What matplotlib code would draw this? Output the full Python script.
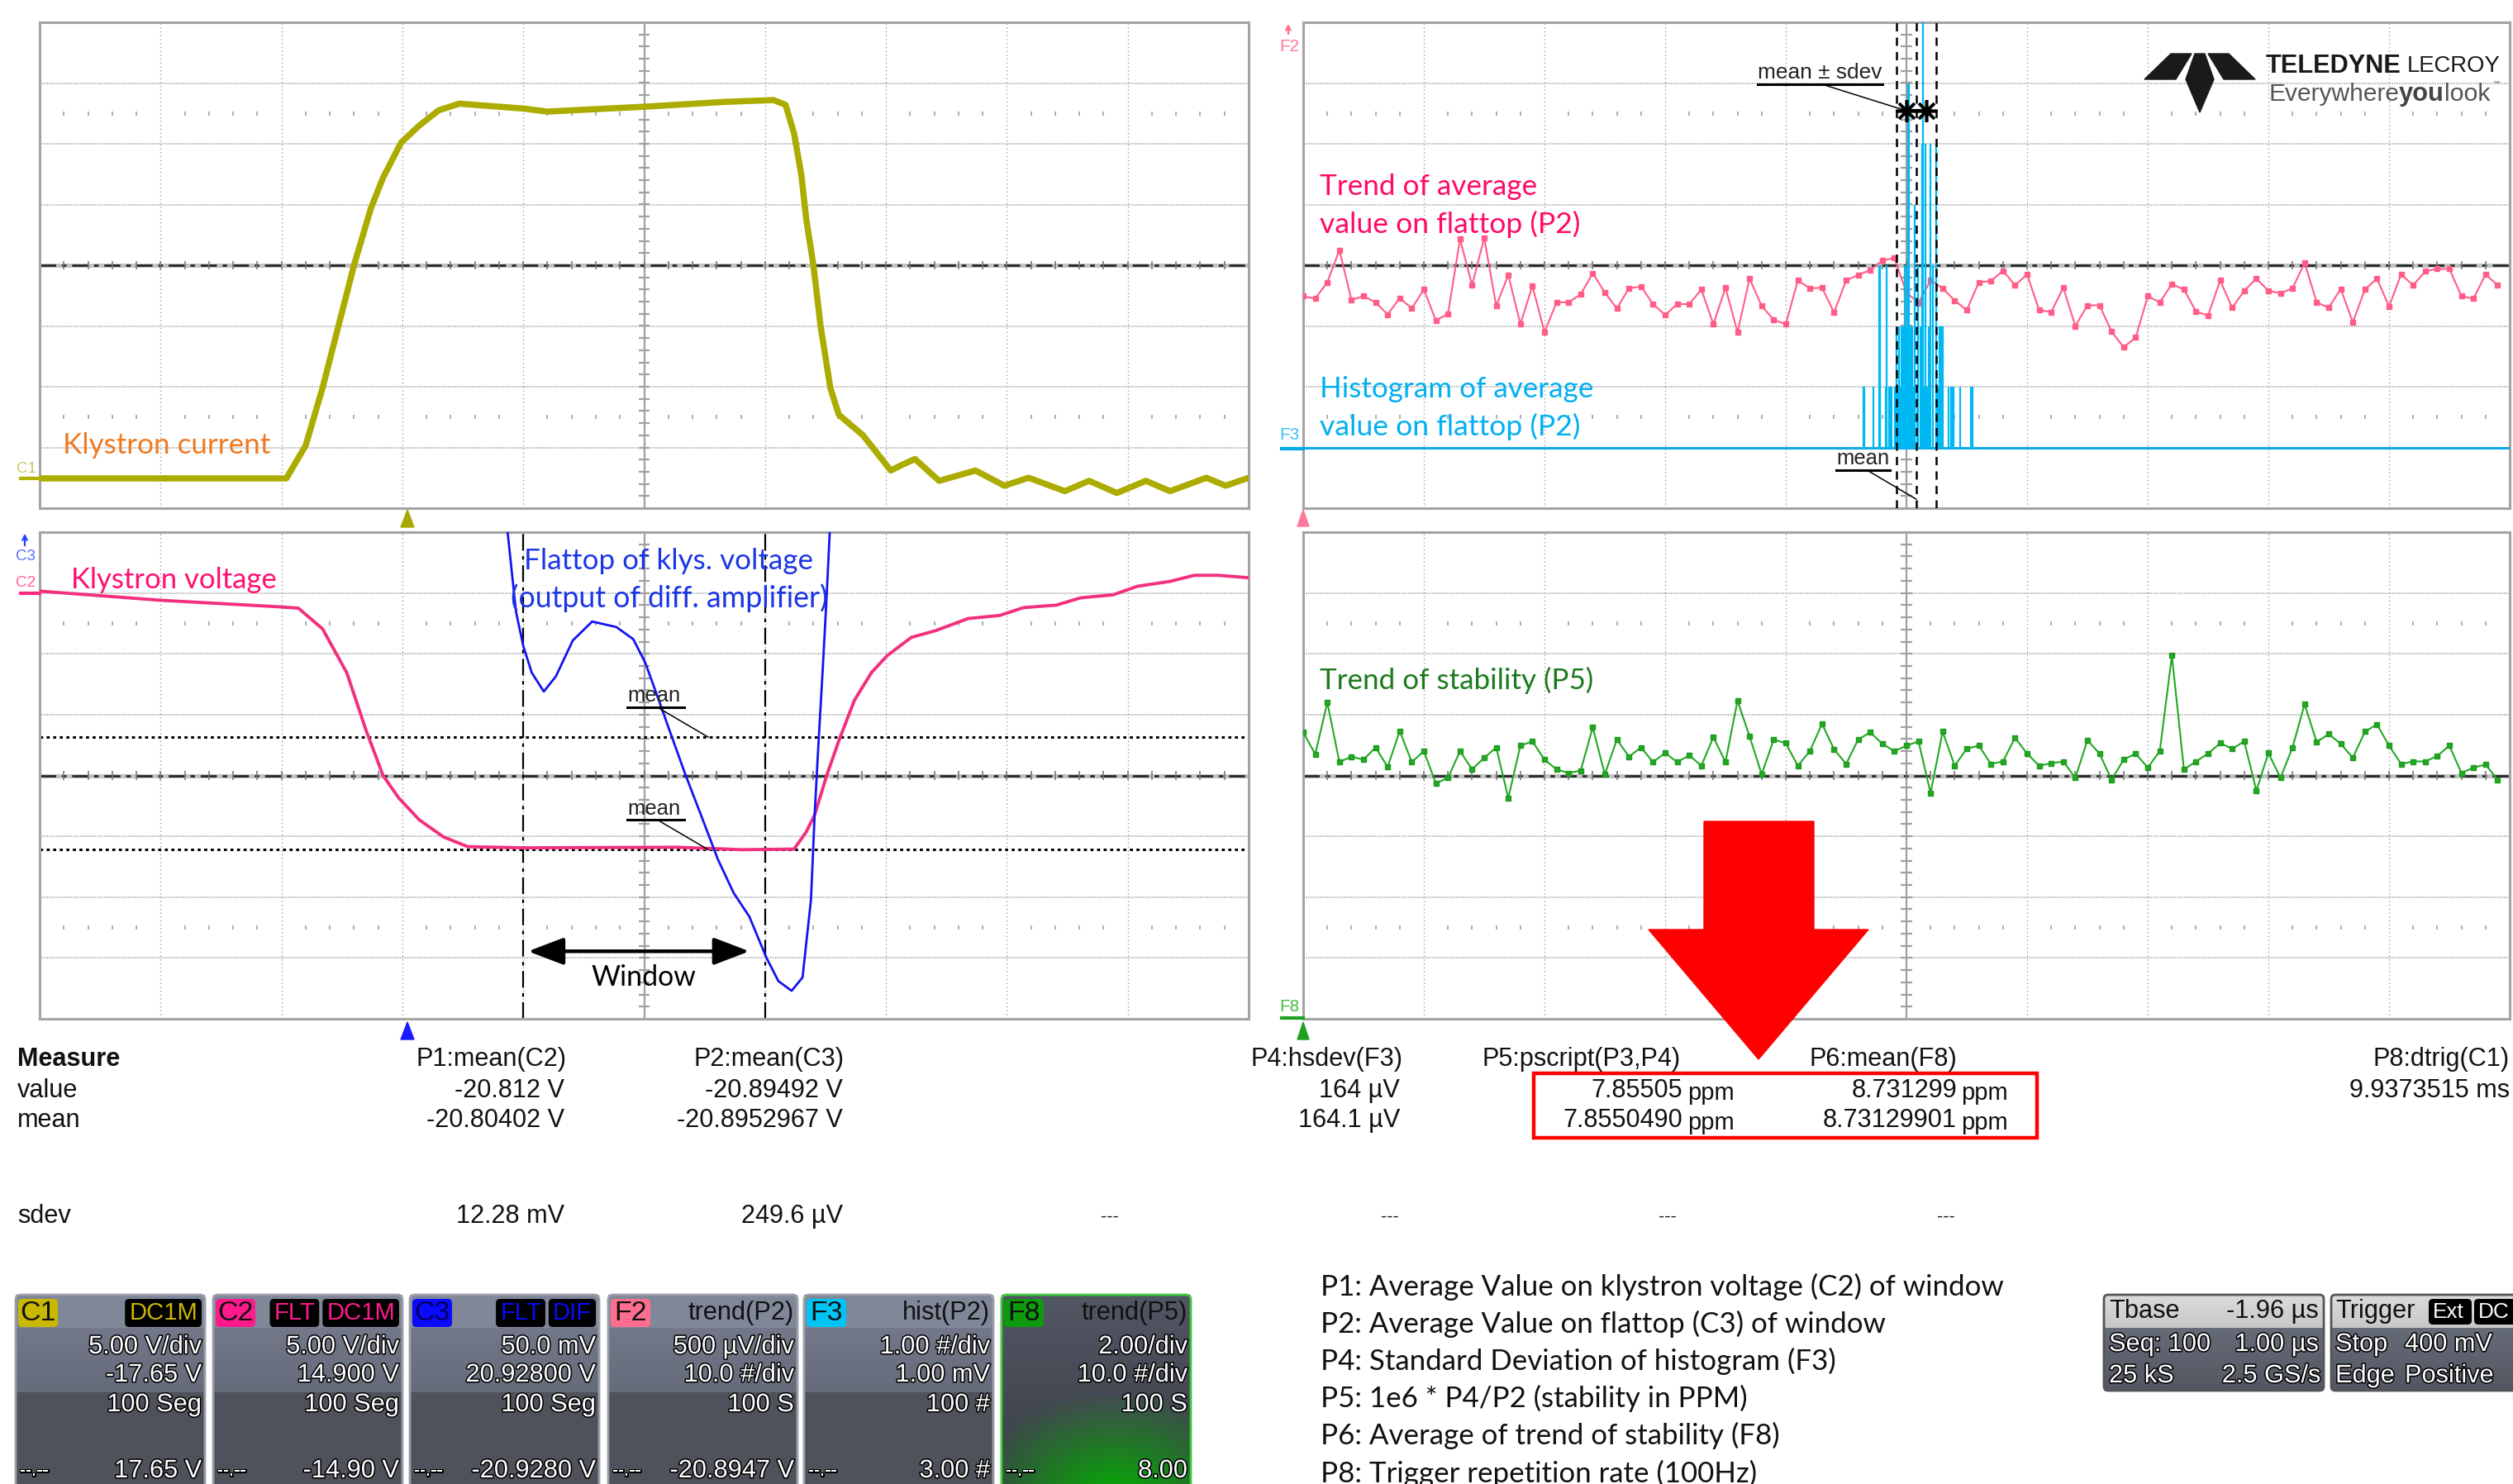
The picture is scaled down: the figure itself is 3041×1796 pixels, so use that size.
import numpy as np
import matplotlib
matplotlib.use('Agg')
import matplotlib.pyplot as plt
from matplotlib.patches import Rectangle, FancyBboxPatch, Polygon
import matplotlib.patheffects as pe

# ---------------- data (screen divisions: x 0..10, y -4..4) ----------------
# C1 klystron current
c1_x = [0.0, 2.04, 2.20, 2.34, 2.47, 2.60, 2.74, 2.84, 2.99, 3.14, 3.30, 3.47, 4.00, 4.20, 5.00,
        5.67, 6.07, 6.17, 6.24, 6.30, 6.34, 6.40, 6.46, 6.54, 6.61, 6.81, 7.04, 7.14, 7.24, 7.44,
        7.74, 7.98, 8.18, 8.48, 8.68, 8.91, 9.15, 9.35, 9.65, 9.81, 10.0]
c1_y = [-3.51, -3.51, -2.97, -2.02, -1.01, 0.0, 0.94, 1.44, 2.02, 2.30, 2.55, 2.66, 2.58, 2.53, 2.61,
        2.69, 2.72, 2.64, 2.17, 1.49, 0.77, 0.0, -1.01, -2.02, -2.46, -2.80, -3.38, -3.28, -3.19, -3.55,
        -3.38, -3.63, -3.50, -3.72, -3.55, -3.75, -3.55, -3.72, -3.50, -3.63, -3.50]
# C2 klystron voltage
c2_x = [0.0, 1.0, 2.0, 2.14, 2.34, 2.54, 2.70, 2.84, 2.97, 3.14, 3.34, 3.54, 4.0, 5.27, 5.81, 6.24,
        6.34, 6.41, 6.51, 6.61, 6.74, 6.88, 7.01, 7.21, 7.41, 7.68, 7.94, 8.14, 8.41, 8.61, 8.88,
        9.08, 9.35, 9.55, 9.75, 10.0]
c2_y = [3.03, 2.88, 2.77, 2.75, 2.41, 1.69, 0.74, 0.0, -0.37, -0.73, -1.01, -1.17, -1.19, -1.18, -1.22,
        -1.21, -0.93, -0.65, 0.0, 0.57, 1.24, 1.69, 1.97, 2.27, 2.38, 2.58, 2.63, 2.76, 2.80, 2.92,
        2.97, 3.11, 3.19, 3.29, 3.29, 3.25]
# C3 flattop (diff. amplifier output)
c3_x = [3.86, 3.94, 4.00, 4.07, 4.17, 4.27, 4.41, 4.57, 4.77, 4.91, 5.01, 5.11, 5.21, 5.34, 5.47,
        5.61, 5.74, 5.87, 6.01, 6.11, 6.22, 6.31, 6.38, 6.41, 6.44, 6.48, 6.51, 6.54]
c3_y = [4.2, 2.69, 2.13, 1.69, 1.38, 1.63, 2.22, 2.53, 2.44, 2.24, 1.85, 1.30, 0.74, 0.02, -0.65,
        -1.38, -1.93, -2.32, -2.99, -3.38, -3.54, -3.32, -2.04, -0.65, 0.46, 1.85, 2.97, 4.2]
mean_levels = [0.63, -1.22]          # C3 mean, C2 mean (dotted lines)
window_edges = [4.0, 6.0]

# F2 trend of P2 (100 samples, div)
f2_trend = [
    -0.51, -0.55, -0.28, 0.25, -0.57, -0.51, -0.61, -0.81, -0.54, -0.71,
    -0.40, -0.91, -0.80, 0.43, -0.33, 0.45, -0.67, -0.16, -0.97, -0.34,
    -1.10, -0.61, -0.61, -0.48, -0.13, -0.45, -0.71, -0.38, -0.35, -0.64,
    -0.82, -0.64, -0.64, -0.40, -0.97, -0.37, -1.10, -0.22, -0.67, -0.90,
    -0.97, -0.25, -0.38, -0.37, -0.78, -0.25, -0.16, -0.08, 0.08, 0.12,
    -0.45, -0.62, -0.25, -0.38, -0.58, -0.74, -0.28, -0.26, -0.09, -0.33,
    -0.15, -0.74, -0.77, -0.37, -1.00, -0.66, -0.66, -1.09, -1.35, -1.19,
    -0.51, -0.61, -0.31, -0.40, -0.76, -0.83, -0.25, -0.70, -0.42, -0.22,
    -0.42, -0.46, -0.38, 0.04, -0.61, -0.70, -0.39, -0.94, -0.40, -0.22,
    -0.68, -0.15, -0.33, -0.10, -0.06, -0.06, -0.51, -0.55, -0.15, -0.33]
# F8 trend of P5 stability (100 samples, div)
f8_trend = [
    0.71, 0.35, 1.20, 0.22, 0.31, 0.26, 0.46, 0.14, 0.73, 0.22,
    0.40, -0.13, -0.04, 0.40, 0.10, 0.29, 0.46, -0.37, 0.49, 0.56,
    0.26, 0.10, 0.04, 0.08, 0.79, 0.02, 0.59, 0.31, 0.46, 0.22,
    0.37, 0.22, 0.33, 0.16, 0.63, 0.22, 1.23, 0.64, 0.02, 0.59,
    0.53, 0.16, 0.40, 0.85, 0.43, 0.19, 0.59, 0.71, 0.52, 0.40,
    0.49, 0.56, -0.29, 0.72, 0.16, 0.44, 0.49, 0.19, 0.23, 0.62,
    0.36, 0.16, 0.20, 0.23, -0.04, 0.58, 0.36, -0.07, 0.26, 0.36,
    0.13, 0.40, 1.97, 0.10, 0.23, 0.36, 0.53, 0.44, 0.56, -0.25,
    0.37, -0.04, 0.46, 1.17, 0.55, 0.68, 0.52, 0.29, 0.72, 0.84,
    0.49, 0.19, 0.23, 0.23, 0.32, 0.49, 0.04, 0.13, 0.18, -0.07]
samples_per_div = 10.0
trend_mv_per_div = 0.5     # F2: 500 uV/div
hist_mv_per_div = 1.0      # F3: 1.00 mV/div
hist_center_div = 5.32
hist_bin_div = 0.01

# measurement table
meas_headers = ['P1:mean(C2)', 'P2:mean(C3)', 'P4:hsdev(F3)', 'P5:pscript(P3,P4)', 'P6:mean(F8)', 'P8:dtrig(C1)']
meas_value = ['-20.812 V', '-20.89492 V', '164 µV', '7.85505', '8.731299', '9.9373515 ms']
meas_mean = ['-20.80402 V', '-20.8952967 V', '164.1 µV', '7.8550490', '8.73129901', '']
meas_sdev = ['12.28 mV', '249.6 µV', '---', '---', '---', '---', '---']

# channel descriptor boxes
ch_names = ['C1', 'C2', 'C3', 'F2', 'F3', 'F8']
ch_colors = ['#C9B800', '#FF1A8C', '#0A0AFF', '#FF6E8E', '#00C4F4', '#0E9A0E']
ch_badges = [['DC1M'], ['FLT', 'DC1M'], ['FLT', 'DIF'], [], [], []]
ch_desc = ['', '', '', 'trend(P2)', 'hist(P2)', 'trend(P5)']
ch_row2 = ['5.00 V/div', '5.00 V/div', '50.0 mV', '500 µV/div', '1.00 #/div', '2.00/div']
ch_row3 = ['-17.65 V', '14.900 V', '20.92800 V', '10.0 #/div', '1.00 mV', '10.0 #/div']
ch_row4 = ['100 Seg', '100 Seg', '100 Seg', '100 S', '100 #', '100 S']
ch_row5 = ['17.65 V', '-14.90 V', '-20.9280 V', '-20.8947 V', '3.00 #', '8.00']

notes = ['P1: Average Value on klystron voltage (C2) of window',
         'P2: Average Value on flattop (C3) of window',
         'P4: Standard Deviation of histogram (F3)',
         'P5: 1e6 * P4/P2 (stability in PPM)',
         'P6: Average of trend of stability (F8)',
         'P8: Trigger repetition rate (100Hz)']

# ---------------- figure ----------------
W, H = 3041, 1796
fig = plt.figure(figsize=(W / 100, H / 100), dpi=100)
fig.patch.set_facecolor('white')
canvas = fig.add_axes([0, 0, 1, 1], zorder=0)
canvas.set_xlim(0, W); canvas.set_ylim(H, 0); canvas.axis('off')
ov = fig.add_axes([0, 0, 1, 1], zorder=10)
ov.set_xlim(0, W); ov.set_ylim(H, 0); ov.axis('off')
renderer = fig.canvas.get_renderer()

LAT = 'Lato'
AR = 'Liberation Sans'


def fitsize(s, width, **kw):
    t = ov.text(0, 0, s, fontsize=20, **kw)
    w = t.get_window_extent(renderer).width
    t.remove()
    return 20 * width / w


def T(ax, x, y, s, width=None, size=20, ha='left', va='center', **kw):
    t = ax.text(x, y, s, ha=ha, va=va, fontsize=size, **kw)
    if width is not None:
        w = t.get_window_extent(renderer).width
        t.set_fontsize(size * width / w)
    return t


def px_axes(x0, y0, x1, y1, z=2):
    return fig.add_axes([x0 / W, 1 - y1 / H, (x1 - x0) / W, (y1 - y0) / H], zorder=z)


def scope_grid(ax):
    ax.set_xlim(0, 10); ax.set_ylim(-4, 4)
    ax.set_xticks([]); ax.set_yticks([])
    for s in ax.spines.values():
        s.set_color('#A4A4A4'); s.set_linewidth(2.2)
    g = '#ABABAB'
    for k in range(1, 10):
        if k != 5:
            ax.axvline(k, color=g, lw=1.0, ls=(0, (1.2, 2.2)), zorder=1)
    for k in (-3, -2, -1, 1, 2, 3):
        ax.axhline(k, color=g, lw=1.3, ls=(0, (0.8, 0.8)), zorder=1)
    ax.axvline(5, color='#A0A0A0', lw=1.6, zorder=1)
    ty = np.arange(-3.8, 3.81, 0.2)
    ax.hlines(ty, 4.955, 5.045, color='#A0A0A0', lw=1.6, zorder=1)
    ax.axhline(0, color='#C2C2C2', lw=3.6, zorder=1)
    ax.axhline(0, color='#262626', lw=2.0, ls=(0, (7, 2.5, 2, 2.5)), zorder=1)
    tx = np.arange(0.2, 9.81, 0.2)
    ax.vlines(tx, -0.07, 0.07, color='#7A7A7A', lw=1.2, zorder=1)
    minor = [t for t in tx if abs(t - round(t)) > 0.05]
    for yy in (2.5, -2.5):
        ax.vlines(minor, yy - 0.035, yy + 0.035, color='#A0A0A0', lw=1.2, zorder=1)


ax_tl = px_axes(48, 27, 1511, 615)
ax_bl = px_axes(48, 644, 1511, 1233)
ax_tr = px_axes(1577, 27, 3037, 615)
ax_br = px_axes(1577, 644, 3037, 1233)
for a in (ax_tl, ax_bl, ax_tr, ax_br):
    scope_grid(a)

# ---- top-left: klystron current ----
ax_tl.plot(c1_x, c1_y, color='#ABAB00', lw=5.4, solid_joinstyle='round', solid_capstyle='butt', zorder=3)

# ---- bottom-left: klystron voltage + flattop ----
ax_bl.plot(c2_x, c2_y, color='#F2307E', lw=2.8, zorder=3)
ax_bl.plot(c3_x, c3_y, color='#1414F0', lw=2.0, zorder=4)
for lvl in mean_levels:
    ax_bl.axhline(lvl, color='black', lw=2.2, ls=(0, (1.2, 1.4)), zorder=2)
for xe in window_edges:
    ax_bl.axvline(xe, color='black', lw=1.6, ls=(0, (9, 3, 2, 3)), zorder=2)
ax_bl.annotate('', xy=(5.87, -2.89), xytext=(4.04, -2.89),
               arrowprops=dict(arrowstyle='<|-|>,head_length=1.1,head_width=0.42', lw=3.2,
                               color='black', shrinkA=0, shrinkB=0, mutation_scale=24), zorder=5)
for (ty, ly, tgt) in [(1.31, 1.12, mean_levels[0]), (-0.55, -0.73, mean_levels[1])]:
    T(ax_bl, 5.08, ty, 'mean', width=64, ha='center', family=AR, color='#222222', zorder=6)
    ax_bl.plot([4.86, 5.33], [ly, ly], color='black', lw=2.2, zorder=6)
    ax_bl.plot([5.11, 5.53], [ly, tgt], color='black', lw=1.1, zorder=6)

# ---- top-right: trend of P2 + histogram ----
f2_x = np.arange(len(f2_trend)) / samples_per_div
ax_tr.plot(f2_x, f2_trend, color='#FF5C88', lw=1.5, marker='s', ms=4.5, mec='#FF5C88', zorder=3)
hv = hist_center_div + np.asarray(f2_trend) * trend_mv_per_div / hist_mv_per_div
bins = np.arange(4.0, 6.0 + 1e-9, hist_bin_div)
cnt, edges = np.histogram(hv, bins=bins)
m = cnt > 0
ax_tr.axhline(-3, color='#10A8E6', lw=2.2, zorder=3)
ax_tr.bar(edges[:-1][m], cnt[m], width=hist_bin_div * 0.8, bottom=-3, align='edge',
          color='#00B8F2', ec='#00B8F2', lw=0.9, zorder=4)
h_mean = hv.mean()
h_sd = hv.std()
for xv in (h_mean - h_sd, h_mean, h_mean + h_sd):
    ax_tr.axvline(xv, color='black', lw=1.8, ls=(0, (4, 3)), zorder=5)
ax_tr.plot([h_mean - 0.5 * h_sd, h_mean + 0.5 * h_sd], [2.55, 2.55], ls='none', marker=(8, 2, 0),
           ms=19, mew=2.6, color='black', zorder=6)
ax_tr.plot([h_mean - 0.5 * h_sd, h_mean + 0.5 * h_sd], [2.55, 2.55], color='black', lw=3, zorder=6)
T(ax_tr, 4.28, 3.17, 'mean ± sdev', width=150, ha='center', family=AR, color='#222222', zorder=6)
ax_tr.plot([3.77, 4.80], [2.98, 2.98], color='black', lw=2.2, zorder=6)
ax_tr.plot([4.30, h_mean - 0.55 * h_sd], [2.98, 2.55], color='black', lw=1.1, zorder=6)
T(ax_tr, 4.64, -3.19, 'mean', width=64, ha='center', family=AR, color='#222222', zorder=6)
ax_tr.plot([4.42, 4.86], [-3.37, -3.37], color='black', lw=2.2, zorder=6)
ax_tr.plot([4.67, h_mean], [-3.37, -3.85], color='black', lw=1.1, zorder=6)

# ---- bottom-right: trend of stability ----
f8_x = np.arange(len(f8_trend)) / samples_per_div
ax_br.plot(f8_x, f8_trend, color='#22A822', lw=1.5, marker='s', ms=4.5, mec='#1E9A1E', zorder=3)

# ---- in-panel text labels (overlay, pixel coords) ----
T(ov, 76, 539, 'Klystron current', width=251, family=LAT, color='#EE7A22')
T(ov, 86, 702, 'Klystron voltage', width=248, family=LAT, color='#FF1070')
T(ov, 634, 679, 'Flattop of klys. voltage', width=349, family=LAT, color='#1A36E6')
T(ov, 618, 724, '(output of diff. amplifier)', width=385, family=LAT, color='#1A36E6')
T(ov, 779, 1183, 'Window', width=127, ha='center', family=LAT, color='black')
T(ov, 1597, 226, 'Trend of average', width=263, family=LAT, color='#FF0A66')
T(ov, 1597, 271, 'value on flattop (P2)', width=315, family=LAT, color='#FF0A66')
T(ov, 1597, 471, 'Histogram of average', width=331, family=LAT, color='#00B0F0')
T(ov, 1597, 516, 'value on flattop (P2)', width=315, family=LAT, color='#00B0F0')
T(ov, 1597, 823, 'Trend of stability (P5)', width=331, family=LAT, color='#1C7A1C')

# channel tags left of panels
T(ov, 32, 567, 'C1', width=24, ha='center', family=AR, color='#C8C860')
ov.plot([25, 48], [579, 579], color='#B0B000', lw=3)
ov.annotate('', xy=(30, 643), xytext=(30, 663), arrowprops=dict(arrowstyle='->', color='#2040FF', lw=1.6))
T(ov, 31, 674, 'C3', width=24, ha='center', family=AR, color='#5A6AFF')
T(ov, 31, 705, 'C2', width=24, ha='center', family=AR, color='#FF5C9A')
ov.plot([25, 48], [718, 718], color='#FF2A80', lw=3)
ov.annotate('', xy=(1559, 26), xytext=(1559, 44), arrowprops=dict(arrowstyle='->', color='#FF6E8E', lw=1.6))
T(ov, 1560, 56, 'F2', width=24, ha='center', family=AR, color='#FF7799')
T(ov, 1560, 527, 'F3', width=24, ha='center', family=AR, color='#33C0F0')
ov.plot([1551, 1577], [543, 543], color='#00A8E8', lw=3)
T(ov, 1560, 1218, 'F8', width=24, ha='center', family=AR, color='#44BB44')
ov.plot([1551, 1577], [1232, 1232], color='#20A020', lw=3)
ov.add_patch(Polygon([(485, 638), (501, 638), (493, 617)], closed=True, color='#A8A800'))
ov.add_patch(Polygon([(485, 1258), (501, 1258), (493, 1237)], closed=True, color='#1A1AFF'))
ov.add_patch(Polygon([(1570, 637), (1584, 637), (1577, 617)], closed=True, color='#FF7799'))
ov.add_patch(Polygon([(1570, 1258), (1584, 1258), (1577, 1237)], closed=True, color='#20A020'))

# logo
logo_c = '#1A1A1A'
ov.add_patch(Polygon([(2595, 96), (2627, 65), (2652, 65), (2633, 96)], closed=True, color=logo_c))
ov.add_patch(Polygon([(2729, 96), (2697, 65), (2672, 65), (2691, 96)], closed=True, color=logo_c))
ov.add_patch(Polygon([(2656, 65), (2668, 65), (2679, 96), (2662, 136), (2645, 96)], closed=True, color=logo_c))
T(ov, 2742, 80, 'TELEDYNE', width=164, family=AR, weight='bold', color=logo_c)
T(ov, 2913, 80, 'LECROY', width=113, family=AR, color=logo_c)
T(ov, 2746, 114, 'Everywhere', width=157, family=AR, color='#555555')
T(ov, 2903, 114, 'you', width=55, family=AR, weight='bold', color='#444444')
T(ov, 2958, 114, 'look', width=56, family=AR, color='#555555')
ov.text(3016, 103, '™', fontsize=6, color='#555555', family=AR)

# ---- measurement table ----
s_tab = fitsize('P1:mean(C2)', 182, family=AR)
tk = dict(family=AR, color='#111111', fontsize=s_tab, va='center')
ov.text(21, 1282, 'Measure', weight='bold', ha='left', **tk)
ov.text(21, 1320, 'value', ha='left', **tk)
ov.text(21, 1356, 'mean', ha='left', **tk)
ov.text(21, 1472, 'sdev', ha='left', **tk)
head_r = [686, 1021, 1697, 2034, 2368, 3037]
val_r = [683, 1020, 1694, 2036, 2368, 3037]
for i, s in enumerate(meas_headers):
    ov.text(head_r[i], 1282, s, ha='right', **tk)
for i, s in enumerate(meas_value):
    ov.text(val_r[i], 1320, s, ha='right', **tk)
for i, s in enumerate(meas_mean):
    ov.text(val_r[i], 1356, s, ha='right', **tk)
for xr in (2042, 2373):
    ov.text(xr, 1323, 'ppm', ha='left', family=AR, color='#111111', fontsize=s_tab * 0.95, va='center')
    ov.text(xr, 1359, 'ppm', ha='left', family=AR, color='#111111', fontsize=s_tab * 0.95, va='center')
ov.text(683, 1472, meas_sdev[0], ha='right', **tk)
ov.text(1020, 1472, meas_sdev[1], ha='right', **tk)
for xc in (1343, 1682, 2018, 2355):
    ov.text(xc, 1472, '---', ha='center', family=AR, color='#111111', fontsize=s_tab * 0.7, va='center')
ov.add_patch(Rectangle((1856, 1299), 609, 78, fill=False, ec='#FF0000', lw=3.2, zorder=20))

# red arrow
ov.add_patch(Polygon([(2062, 994), (2195, 994), (2195, 1125), (2261, 1125), (2128, 1282),
                      (1995, 1125), (2062, 1125)], closed=True, color='#FF0000', zorder=21))

# ---- notes ----
s_ann = fitsize(notes[0], 826, family=LAT)
for i, s in enumerate(notes):
    ov.text(1598, 1557 + i * 45.2, s, ha='left', va='center', family=LAT, fontsize=s_ann, color='#111111')

# ---- channel descriptor boxes ----
s_box = fitsize('5.00 V/div', 137, family=AR)
stroke = [pe.withStroke(linewidth=2.2, foreground='black')]
box_x0 = [19, 258, 496, 736, 973, 1212]
bw, btop, bbot = 229, 1567, 1805
rows = np.arange(btop, bbot)
for i, x0 in enumerate(box_x0):
    if ch_names[i] == 'F8':
        yy, xx = np.mgrid[0:120, 0:60]
        base = np.zeros((120, 60, 3))
        t = yy / 119.0
        base[..., 0] = 0.32 - 0.10 * t
        base[..., 1] = 0.34 - 0.10 * t
        base[..., 2] = 0.39 - 0.12 * t
        d = np.sqrt(((xx - 36) / 40.0) ** 2 + ((yy - 125) / 55.0) ** 2)
        gl = np.clip(1.2 - d, 0, 1)
        base[..., 0] = base[..., 0] * (1 - gl) + 0.05 * gl
        base[..., 1] = base[..., 1] * (1 - gl) + 0.62 * gl
        base[..., 2] = base[..., 2] * (1 - gl) + 0.05 * gl
        img = base
        edge = '#3CC83C'
    else:
        col = np.zeros((len(rows), 1, 3))
        for j, r in enumerate(rows):
            if r < 1607:
                c = (0.50, 0.53, 0.60)
            elif r < 1685:
                f = (r - 1607) / 78.0
                c = (0.45 - 0.05 * f, 0.47 - 0.05 * f, 0.54 - 0.06 * f)
            else:
                c = (0.31, 0.32, 0.36)
            col[j, 0] = c
        img = col
        edge = '#9A9EA8'
    canvas.imshow(img, extent=[x0, x0 + bw, bbot, btop], origin='upper', aspect='auto',
                  interpolation='bilinear', zorder=1)
    canvas.add_patch(FancyBboxPatch((x0, btop), bw, bbot - btop, boxstyle='round,pad=0,rounding_size=6',
                                    fill=False, ec=edge, lw=2.0, zorder=2))
    canvas.add_patch(FancyBboxPatch((x0 + 3, 1572), 48, 34, boxstyle='round,pad=0,rounding_size=5',
                                    fc=ch_colors[i], ec='none', zorder=3))
    ov.text(x0 + 27, 1589, ch_names[i], ha='center', va='center', family=AR, fontsize=s_box * 1.1,
            color='#00005A' if ch_names[i] == 'C3' else '#111111')
    xr = x0 + bw - 4
    for bdg in reversed(ch_badges[i]):
        tb = ov.text(0, 0, bdg, fontsize=s_box * 0.95, family=AR)
        wb = tb.get_window_extent(renderer).width
        tb.remove()
        canvas.add_patch(FancyBboxPatch((xr - wb - 10, 1572), wb + 10, 34,
                                        boxstyle='round,pad=0,rounding_size=5', fc='black', ec='none', zorder=3))
        ov.text(xr - 5, 1589, bdg, ha='right', va='center', family=AR, fontsize=s_box * 0.95,
                color=ch_colors[i])
        xr -= wb + 14
    if ch_desc[i]:
        ov.text(x0 + bw - 4, 1589, ch_desc[i], ha='right', va='center', family=AR, fontsize=s_box,
                color='#111111')
    for yv, s in ((1630, ch_row2[i]), (1664, ch_row3[i]), (1700, ch_row4[i]), (1780, ch_row5[i])):
        ov.text(x0 + bw - 4, yv, s, ha='right', va='center', family=AR, fontsize=s_box, color='white',
                path_effects=stroke)
    ov.text(x0 + 5, 1780, '--.--', ha='left', va='center', family=AR, fontsize=s_box * 0.7, color='white',
            path_effects=stroke)

# ---- timebase / trigger boxes ----
s_tb = fitsize('Seq: 100', 123, family=AR)
for (bx0, bx1) in ((2546, 2812), (2821, 3060)):
    col = np.zeros((116, 1, 3))
    for j in range(116):
        r = 1567 + j
        if r < 1607:
            f = j / 40.0
            col[j, 0] = (0.86 - 0.08 * f, 0.86 - 0.08 * f, 0.86 - 0.08 * f)
        else:
            f = (r - 1607) / 76.0
            col[j, 0] = (0.40 - 0.08 * f, 0.42 - 0.08 * f, 0.47 - 0.09 * f)
    canvas.imshow(col, extent=[bx0, bx1, 1683, 1567], origin='upper', aspect='auto',
                  interpolation='bilinear', zorder=1)
    canvas.add_patch(FancyBboxPatch((bx0, 1567), bx1 - bx0, 116, boxstyle='round,pad=0,rounding_size=5',
                                    fill=False, ec='#555555', lw=2.0, zorder=2))
tbk = dict(family=AR, fontsize=s_tb, va='center')
ov.text(2552, 1587, 'Tbase', ha='left', color='#111111', **tbk)
ov.text(2806, 1587, '-1.96 µs', ha='right', color='#111111', **tbk)
ov.text(2552, 1627, 'Seq: 100', ha='left', color='white', path_effects=stroke, **tbk)
ov.text(2806, 1627, '1.00 µs', ha='right', color='white', path_effects=stroke, **tbk)
ov.text(2552, 1665, '25 kS', ha='left', color='white', path_effects=stroke, **tbk)
ov.text(2808, 1665, '2.5 GS/s', ha='right', color='white', path_effects=stroke, **tbk)
ov.text(2826, 1587, 'Trigger', ha='left', color='#111111', **tbk)
for (bx, bwid, s) in ((2939, 52, 'Ext'), (2994, 60, 'DC')):
    canvas.add_patch(FancyBboxPatch((bx, 1572), bwid, 31, boxstyle='round,pad=0,rounding_size=5',
                                    fc='black', ec='none', zorder=3))
    ov.text(bx + 5, 1588, s, ha='left', va='center', family=AR, fontsize=s_tb * 0.85, color='white')
ov.text(2826, 1627, 'Stop', ha='left', color='white', path_effects=stroke, **tbk)
ov.text(2910, 1627, '400 mV', ha='left', color='white', path_effects=stroke, **tbk)
ov.text(2826, 1665, 'Edge', ha='left', color='white', path_effects=stroke, **tbk)
ov.text(2910, 1665, 'Positive', ha='left', color='white', path_effects=stroke, **tbk)

fig.savefig('out.png', dpi=100, facecolor='white')
